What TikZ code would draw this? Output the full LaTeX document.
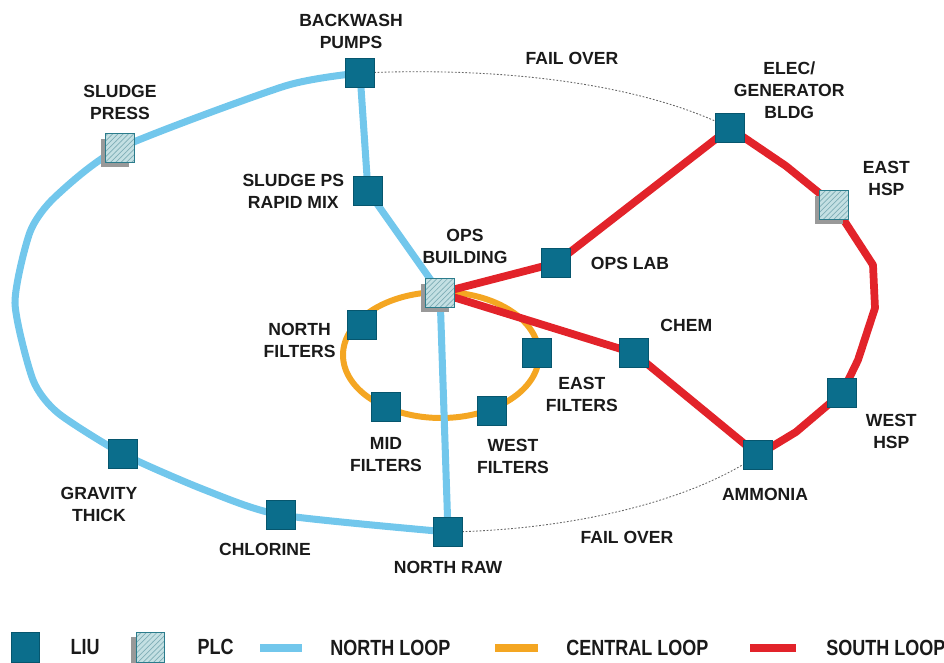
\documentclass[tikz,border=0pt]{standalone}
\usepackage{fontspec}
\setmainfont{Liberation Sans}
\newfontfamily\legendfont[FakeStretch=0.82]{Liberation Sans}
\usepackage{tikz}
\usepackage{xcolor}
\usetikzlibrary{positioning, backgrounds, patterns, shadows}

\definecolor{liublue}{HTML}{0B6E8C}
\definecolor{liuedge}{HTML}{06566E}
\definecolor{plcfill}{HTML}{C4E0E3}
\definecolor{plchatch}{HTML}{7FAEB6}
\definecolor{plcedge}{HTML}{2B7C8C}
\definecolor{northblue}{HTML}{72C7EC}
\definecolor{centralorange}{HTML}{F4A622}
\definecolor{southred}{HTML}{E2232A}
\definecolor{labeltext}{HTML}{1A1A1A}

\tikzset{
  liu/.style={rectangle, draw=liuedge, fill=liublue, minimum size=0.57cm, inner sep=0pt},
  plc/.style={rectangle, draw=plcedge, minimum size=0.57cm, inner sep=0pt,
    general shadow={fill=gray!80, shadow xshift=-0.1cm, shadow yshift=-0.1cm},
    preaction={fill=plcfill}, pattern=north east lines, pattern color=plchatch},
  lbl/.style={font=\bfseries\fontsize{10}{12.5}\selectfont, text=labeltext, align=center, inner sep=0pt},
  legendlbl/.style={font=\legendfont\bfseries\fontsize{12.5}{14}\selectfont, text=labeltext, inner sep=0pt, anchor=west},
  northloop/.style={line width=4pt, draw=northblue, line join=round},
  centralloop/.style={line width=3.4pt, draw=centralorange},
  southloop/.style={line width=4.4pt, draw=southred, line join=round},
  failover/.style={draw=gray!80!black, line width=0.5pt, dash pattern=on 1pt off 1pt}
}

\begin{document}
\begin{tikzpicture}[x=0.02cm, y=-0.02cm]
\useasboundingbox (0,0) rectangle (944,663);

% North loop units
\node[liu] (backwash) at (360,73) {};
\node[plc] (sludgepress) at (120,148) {};
\node[liu] (sludgeps) at (368,191) {};
\node[liu] (gravity) at (123,454) {};
\node[liu] (chlorine) at (281,515) {};
\node[liu] (northraw) at (448,532) {};

% OPS building (PLC)
\node[plc] (ops) at (440,293) {};

% Central loop units
\node[liu] (northfilt) at (362,325) {};
\node[liu] (eastfilt) at (537,353) {};
\node[liu] (midfilt) at (386,407) {};
\node[liu] (westfilt) at (492,411) {};

% South loop units
\node[liu] (opslab) at (556,263) {};
\node[liu] (elec) at (730,128) {};
\node[plc] (easthsp) at (834,205) {};
\node[liu] (westhsp) at (842,393) {};
\node[liu] (ammonia) at (758,455) {};
\node[liu] (chem) at (634,353) {};

% Labels
\node[lbl, above=0.18cm of backwash, xshift=-0.18cm] (backwashlbl) {BACKWASH\\PUMPS};
\node[lbl, above=0.26cm of sludgepress] (sludgepresslbl) {SLUDGE\\PRESS};
\node[lbl, left=0.18cm of sludgeps] (sludgepslbl) {SLUDGE PS\\RAPID MIX};
\node[lbl, above=0.28cm of ops, xshift=0.5cm] (opslbl) {OPS\\BUILDING};
\node[lbl, right=0.4cm of opslab] (opslablbl) {OPS LAB};
\node[lbl, above right=-0.12cm and -0.22cm of elec] (eleclbl) {ELEC/\\GENERATOR\\BLDG};
\node[lbl, above right=-0.12cm and 0.28cm of easthsp] (easthsplbl) {EAST\\HSP};
\node[lbl, left=0.23cm of northfilt, yshift=-0.3cm] (northfiltlbl) {NORTH\\FILTERS};
\node[lbl, below right=0.18cm and -0.12cm of eastfilt] (eastfiltlbl) {EAST\\FILTERS};
\node[lbl, above right=0.13cm and 0.23cm of chem] (chemlbl) {CHEM};
\node[lbl, below=0.3cm of midfilt] (midfiltlbl) {MID\\FILTERS};
\node[lbl, below=0.26cm of westfilt, xshift=0.42cm] (westfiltlbl) {WEST\\FILTERS};
\node[lbl, below right=0.13cm and 0.18cm of westhsp] (westhsplbl) {WEST\\HSP};
\node[lbl, below=0.36cm of ammonia, xshift=0.14cm] (ammonialbl) {AMMONIA};
\node[lbl, below=0.36cm of gravity, xshift=-0.48cm] (gravitylbl) {GRAVITY\\THICK};
\node[lbl, below=0.26cm of chlorine, xshift=-0.32cm] (chlorinelbl) {CHLORINE};
\node[lbl, below=0.28cm of northraw] (northrawlbl) {NORTH RAW};
\node[lbl] (failtop) at (572,58) {FAIL OVER};
\node[lbl] (failbottom) at (627,537) {FAIL OVER};

% Loops
\begin{scope}[on background layer]
% Fail over links
\draw[failover] (backwash.center) .. controls (520,66) and (650,88) .. (elec.center);
\draw[failover] (northraw.center) .. controls (570,530) and (690,502) .. (ammonia.center);
% Central loop
\coordinate (central) at (441,355);
\draw[centralloop] (central) ellipse (98 and 63);
% North loop
\coordinate (nl0) at (285,86);
\coordinate (nl1) at (55,197);
\coordinate (nl2) at (30,232);
\coordinate (nl3) at (15,303);
\coordinate (nl4) at (33,380);
\coordinate (nl5) at (58,413);
\coordinate (nl6) at (205,490);
\draw[northloop] plot[smooth, tension=0.4] coordinates {(backwash.center) (nl0) (sludgepress.center) (nl1) (nl2) (nl3) (nl4) (nl5) (gravity.center) (nl6) (chlorine.center) (northraw.center)};
\draw[northloop] (backwash.center) -- (sludgeps.center) -- (ops.center) -- (northraw.center);
% South loop
\coordinate (sr1) at (786,166);
\coordinate (sr2) at (873,265);
\coordinate (sr3) at (875,308);
\coordinate (sr4) at (858,360);
\coordinate (sr5) at (796,432);
\draw[southloop] (ops.center) -- (opslab.center) -- (elec.center) -- (sr1) -- (easthsp.center) -- (sr2) -- (sr3) -- (sr4) -- (westhsp.center) -- (sr5) -- (ammonia.center) -- (chem.center) -- cycle;
\end{scope}

% Legend
\node[liu, minimum width=0.56cm, minimum height=0.6cm] (keyliu) at (25,647) {};
\node[legendlbl, right=0.62cm of keyliu] (keyliulbl) {LIU};
\node[plc, minimum width=0.56cm, minimum height=0.6cm] (keyplc) at (150,647) {};
\node[legendlbl, right=0.66cm of keyplc] (keyplclbl) {PLC};
\coordinate (keynorth1) at (260,648);
\coordinate (keynorth2) at (302,648);
\draw[northloop, line width=4.6pt] (keynorth1) -- (keynorth2);
\node[legendlbl, right=0.56cm of keynorth2] (keynorthlbl) {NORTH LOOP};
\coordinate (keycentral1) at (495,648);
\coordinate (keycentral2) at (538,648);
\draw[centralloop, line width=4.6pt] (keycentral1) -- (keycentral2);
\node[legendlbl, right=0.56cm of keycentral2] (keycentrallbl) {CENTRAL LOOP};
\coordinate (keysouth1) at (750,648);
\coordinate (keysouth2) at (796,648);
\draw[southloop, line width=4.6pt] (keysouth1) -- (keysouth2);
\node[legendlbl, right=0.6cm of keysouth2] (keysouthlbl) {SOUTH LOOP};
\end{tikzpicture}
\end{document}
